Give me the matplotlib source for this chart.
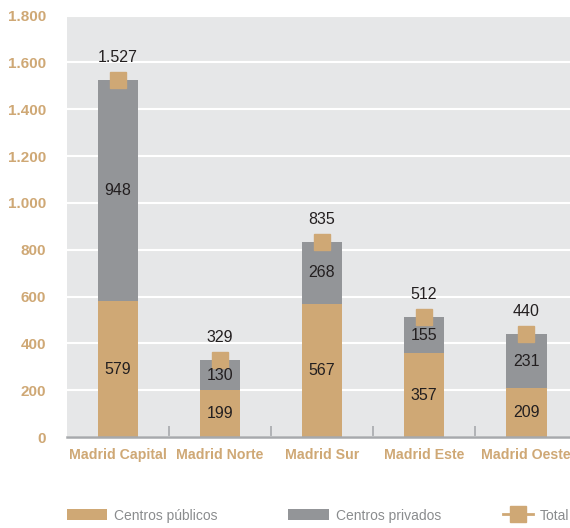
import numpy as np
import matplotlib.pyplot as plt
from matplotlib.ticker import FuncFormatter

# Datos
zonas = ['Madrid Capital', 'Madrid Norte', 'Madrid Sur', 'Madrid Este', 'Madrid Oeste']
publicos = [579, 199, 567, 357, 209]
privados = [948, 130, 268, 155, 231]
totales = [1527, 329, 835, 512, 440]

tan = '#CFA875'
gris = '#939598'
fondo = '#E6E7E8'

plt.rcParams['font.family'] = ['Liberation Sans', 'DejaVu Sans']

fig = plt.figure(figsize=(5.7, 5.28), dpi=100)
ax = fig.add_axes([0.1175, 0.1723, 0.8825, 0.798])
ax.set_facecolor(fondo)

x = np.arange(len(zonas))
b1 = ax.bar(x, publicos, width=0.4, color=tan, label='Centros públicos', zorder=2)
b2 = ax.bar(x, privados, width=0.4, bottom=publicos, color=gris, label='Centros privados', zorder=2)
ax.plot(x, totales, linestyle='none', marker='s', markersize=11, color=tan, zorder=3)
# handle de leyenda con línea
ln, = ax.plot([], [], linestyle='-', linewidth=2, marker='s', markersize=11, color=tan, label='Total')

fmt = lambda v: f'{v:,.0f}'.replace(',', '.')
for i in range(len(zonas)):
    ax.text(x[i], publicos[i] / 2, fmt(publicos[i]), ha='center', va='center',
            fontsize=11.5, color='#231F20', zorder=4)
    ax.text(x[i], publicos[i] + privados[i] / 2, fmt(privados[i]), ha='center', va='center',
            fontsize=11.5, color='#231F20', zorder=4)
    ax.annotate(fmt(totales[i]), (x[i], totales[i]), xytext=(0, 16), textcoords='offset points',
                ha='center', va='center', fontsize=11.5, color='#231F20', zorder=4)

ax.set_xlim(-0.5, 4.43)
ax.set_ylim(0, 1800)
ax.set_yticks(range(0, 1801, 200))
ax.yaxis.set_major_formatter(FuncFormatter(lambda v, p: fmt(v)))
ax.grid(axis='y', color='white', linewidth=1.5, zorder=1)
ax.set_axisbelow(True)

for s in ['top', 'right', 'left']:
    ax.spines[s].set_visible(False)
ax.spines['bottom'].set_color('#A7A9AC')
ax.spines['bottom'].set_linewidth(1.8)
ax.spines['bottom'].set_zorder(5)

ax.set_xticks(x)
ax.set_xticklabels(zonas)
ax.set_xticks(np.arange(0.5, 4, 1), minor=True)
ax.tick_params(axis='x', which='major', length=0, pad=8, labelsize=10.2, labelcolor=tan)
ax.tick_params(axis='x', which='minor', direction='in', length=8, width=1.2, color='#A7A9AC')
ax.tick_params(axis='y', length=0, pad=15, labelsize=11, labelcolor=tan)
for lab in ax.get_xticklabels() + ax.get_yticklabels():
    lab.set_fontweight('bold')

leg1 = ax.legend(handles=[b1, b2], loc='upper left', bbox_to_anchor=(-0.025, -0.14), ncol=2,
                 frameon=False, fontsize=10, handlelength=2.9, handleheight=0.9, handletextpad=0.5,
                 columnspacing=5.1, labelcolor='#8A8C8E')
ax.add_artist(leg1)
ax.legend(handles=[ln], loc='upper left', bbox_to_anchor=(0.842, -0.14),
          frameon=False, fontsize=10, handlelength=2.16, handleheight=0.9, handletextpad=0.5,
          labelcolor='#8A8C8E')

fig.savefig('out.png', dpi=100)
